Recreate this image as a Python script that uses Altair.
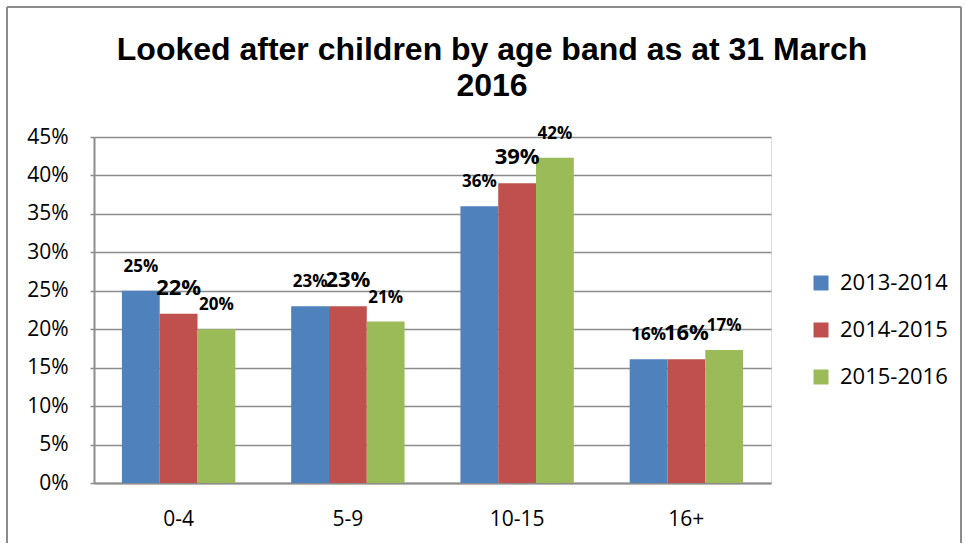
import altair as alt
import pandas as pd

# Share of looked after children in each age band, by reporting year
age_bands = ["0-4", "5-9", "10-15", "16+"]
years = ["2013-2014", "2014-2015", "2015-2016"]
share_2013_14 = [0.25, 0.23, 0.36, 0.161]
share_2014_15 = [0.22, 0.23, 0.39, 0.161]
share_2015_16 = [0.20, 0.21, 0.423, 0.173]
y_ticks = [0.0, 0.05, 0.10, 0.15, 0.20, 0.25, 0.30, 0.35, 0.40, 0.45]

colors = ["#4F81BD", "#C0504D", "#9BBB59"]
grey = "#8c8c8c"
label_font = "Open Sans"

rows = []
for year, values in zip(years, [share_2013_14, share_2014_15, share_2015_16]):
    for band, v in zip(age_bands, values):
        rows.append({"band": band, "year": year, "share": v})
df = pd.DataFrame(rows)

W, H = 677, 346

x_enc = alt.X(
    "band:N",
    sort=age_bands,
    scale=alt.Scale(paddingInner=0.33, paddingOuter=0.165),
    axis=alt.Axis(
        title=None, labelAngle=0, ticks=False, domainColor=grey, domainWidth=2,
        labelFont=label_font, labelFontSize=21, labelColor="#000000",
        labelBaseline="alphabetic", labelPadding=42, grid=False,
    ),
)
y_enc = alt.Y(
    "share:Q",
    scale=alt.Scale(domain=[0, 0.45], nice=False),
    axis=alt.Axis(
        title=None, format=".0%", values=y_ticks, labelOverlap=False,
        labelFont=label_font, labelFontSize=21, labelColor="#000000",
        labelPadding=22, tickSize=4, tickColor=grey, tickWidth=1.5,
        domainColor=grey, domainWidth=2,
        grid=True, gridColor=grey, gridWidth=1.5,
    ),
)
offset_enc = alt.XOffset("year:N", sort=years)

bars = alt.Chart(df).mark_bar().encode(
    x=x_enc,
    y=y_enc,
    xOffset=offset_enc,
    color=alt.Color(
        "year:N",
        sort=years,
        scale=alt.Scale(domain=years, range=colors),
        legend=alt.Legend(
            title=None, orient="none", legendX=716, legendY=135,
            symbolType="square", symbolSize=225, symbolStrokeWidth=0,
            labelFont=label_font, labelFontSize=22, labelColor="#000000",
            labelOffset=8, rowPadding=25, padding=0,
        ),
    ),
)

labels = alt.Chart(df).mark_text(
    font=label_font, fontWeight="bold", color="#000000",
    baseline="alphabetic", dy=-19,
).encode(
    x=x_enc,
    y=y_enc,
    xOffset=offset_enc,
    text=alt.Text("share:Q", format=".0%"),
    size=alt.condition(alt.datum.year == "2014-2015", alt.value(22), alt.value(17)),
)

# Three-sided frame around the whole chart
frame_data = alt.Data(values=[{}])
frame_style = dict(color=grey, strokeWidth=2)
frame_top = alt.Chart(frame_data).mark_rule(**frame_style).encode(
    x=alt.value(-87), x2=alt.value(867), y=alt.value(-130)
)
frame_left = alt.Chart(frame_data).mark_rule(**frame_style).encode(
    x=alt.value(-87), y=alt.value(-130), y2=alt.value(406)
)
frame_right = alt.Chart(frame_data).mark_rule(**frame_style).encode(
    x=alt.value(867), y=alt.value(-130), y2=alt.value(406)
)

chart = (
    alt.layer(bars, labels, frame_top, frame_left, frame_right)
    .properties(
        width=W,
        height=H,
        padding={"left": 6, "top": 6, "right": 0, "bottom": 0},
        title=alt.TitleParams(
            text=["Looked after children by age band as at 31 March", "2016"],
            font="Liberation Sans", fontSize=32, fontWeight="bold",
            color="#000000", lineHeight=36, anchor="middle", frame="bounds",
            offset=-97, dx=8,
        ),
    )
    .configure_view(stroke=None)
    .configure(background="#ffffff")
)

chart.save("out.html", embed_options={"renderer": "svg", "actions": False})
